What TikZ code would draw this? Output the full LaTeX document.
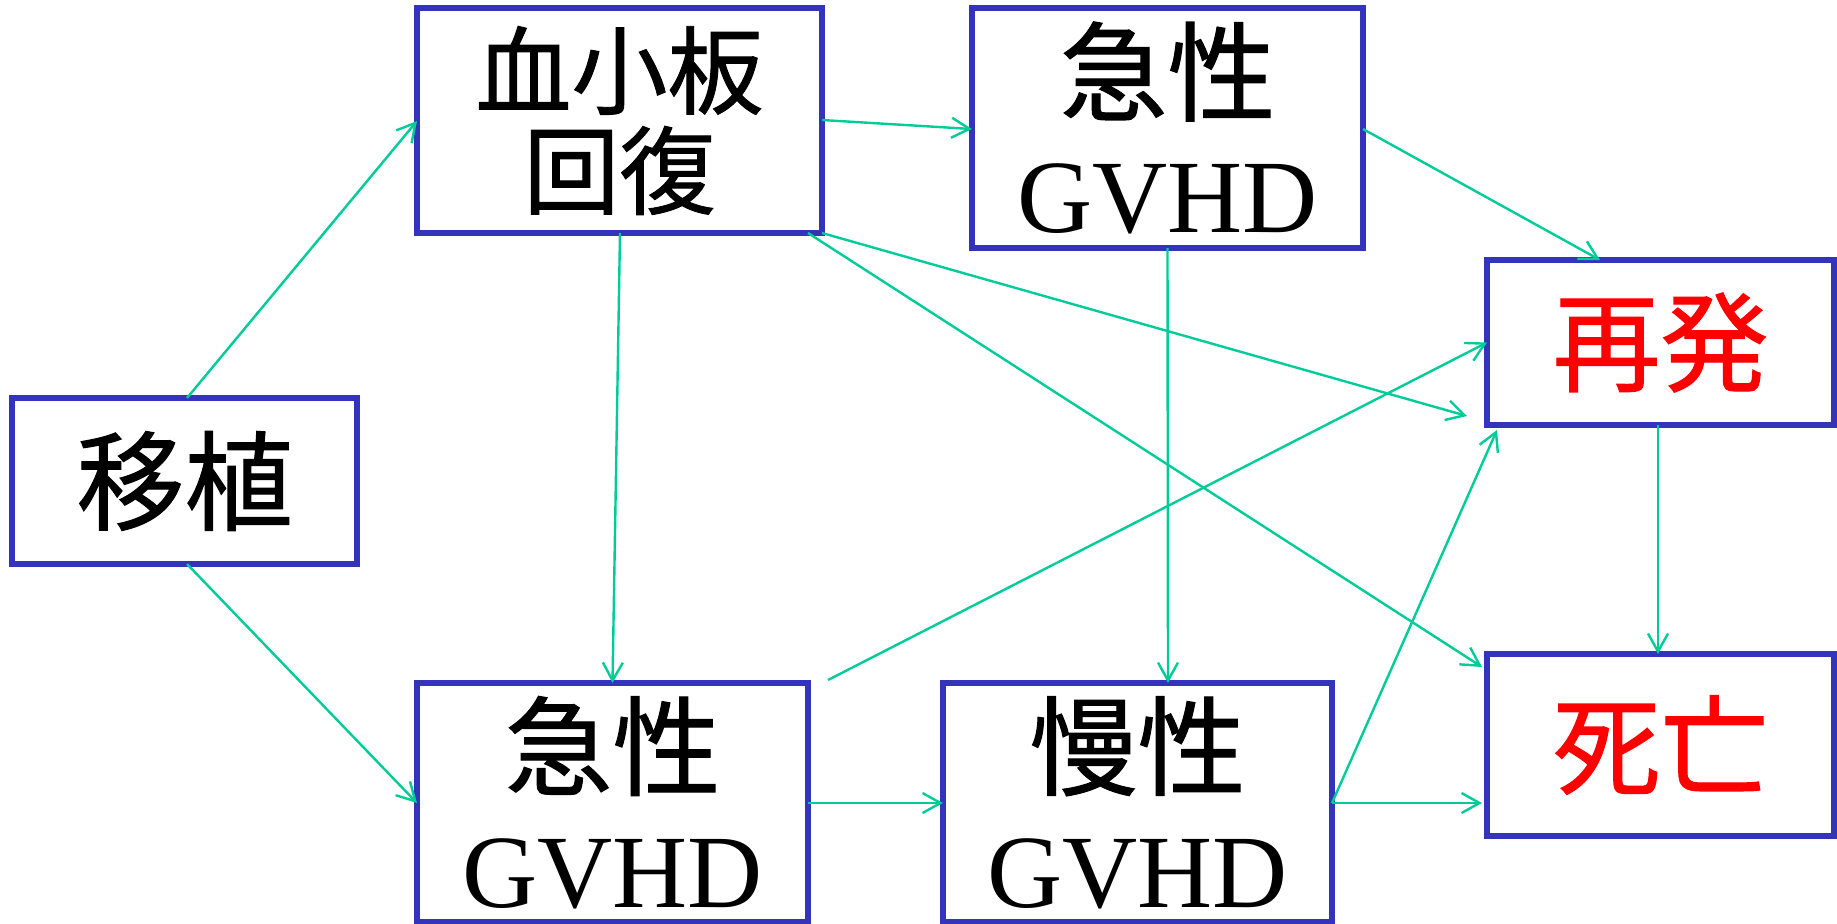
\documentclass[tikz,border=0pt]{standalone}
\usepackage{fontspec}
\setmainfont{Liberation Serif}
\newfontfamily\jp[FakeBold=1]{Noto Sans CJK JP}
\usetikzlibrary{arrows.meta,calc}
\definecolor{boxblue}{RGB}{51,51,187}
\definecolor{arrgreen}{RGB}{0,204,153}
\definecolor{txtred}{RGB}{255,0,0}
\begin{document}
\begin{tikzpicture}[x=0.5pt,y=-0.5pt,
  box/.style={draw=boxblue,line width=2.6pt,inner sep=0pt,outer sep=0pt,align=center},
  cjkA/.style={font=\jp\fontsize{54}{60}\selectfont},
  cjkB/.style={font=\jp\fontsize{48}{50}\selectfont},
  mixed/.style={font=\fontsize{52}{60}\selectfont},
  arr/.style={draw=arrgreen,line width=1.2pt,-{Straight Barb[length=9pt,width=10pt,line width=1.2pt]}}]
\useasboundingbox (0,0) rectangle (1837,923);
\fill[white] (0,0) rectangle (1837,923);

\node[box,cjkA,minimum width=172.5pt,minimum height=83pt] (ishoku) at (184.5,481) {移植};
\node[box,cjkB,minimum width=202.5pt,minimum height=112.5pt] (kessho) at (619.5,120.5) {\raisebox{-10pt}{\parbox{200pt}{\centering 血小板\\回復}}};
\node[box,mixed,minimum width=195.5pt,minimum height=120pt] (kyuT) at (1167.5,128) {{\jp\fontsize{54}{61}\selectfont 急性}\\GVHD};
\node[box,cjkA,text=txtred,minimum width=173.5pt,minimum height=82.5pt] (saihatsu) at (1660.5,342.5) {再発};
\node[box,cjkA,text=txtred,minimum width=173.5pt,minimum height=91pt] (shibo) at (1660.5,745) {死亡};
\node[box,mixed,minimum width=195.5pt,minimum height=119.5pt] (kyuB) at (612.5,802.5) {{\jp\fontsize{54}{61}\selectfont 急性}\\GVHD};
\node[box,mixed,minimum width=194.5pt,minimum height=119.5pt] (mansei) at (1137.5,802.5) {{\jp\fontsize{54}{61}\selectfont 慢性}\\GVHD};

\coordinate (c5) at ($(saihatsu.north west)+(-20,156)$);
\coordinate (c9) at ($(kyuB.north east)+(20,-3)$);

\draw[arr] ($(ishoku.north west)+(175,0)$) -- ($(kessho.north west)+(0,113)$);
\draw[arr] ($(ishoku.south west)+(175,0)$) -- ($(kyuB.north west)+(0,120)$);
\draw[arr] ($(kessho.north east)+(0,112)$) -- ($(kyuT.north west)+(0,121)$);
\draw[arr] ($(kessho.south west)+(203,0)$) -- (kyuB.north);
\draw[arr] (kessho.south east) -- (c5);
\draw[arr] ($(kessho.south east)+(-14,0)$) -- ($(shibo.north west)+(-5,13)$);
\draw[arr] ($(kyuT.north east)+(0,121)$) -- ($(saihatsu.north west)+(113,0)$);
\draw[arr] (kyuT.south) -- ($(mansei.north west)+(225,0)$);
\draw[arr] (c9) -- (saihatsu.west);
\draw[arr] ($(kyuB.north east)+(0,120)$) -- ($(mansei.north west)+(0,120)$);
\draw[arr] ($(mansei.north east)+(0,120)$) -- ($(saihatsu.south west)+(10,5)$);
\draw[arr] ($(mansei.north east)+(0,120)$) -- ($(shibo.north west)+(-5,149)$);
\draw[arr] ($(saihatsu.south west)+(171,0)$) -- ($(shibo.north west)+(171,0)$);
\end{tikzpicture}
\end{document}
